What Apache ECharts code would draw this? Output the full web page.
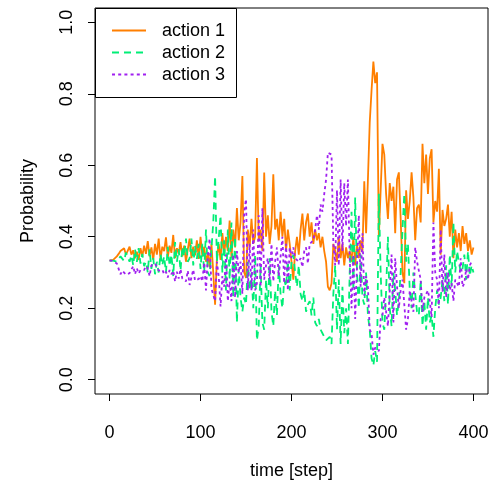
<!DOCTYPE html>
<html>
<head>
<meta charset="utf-8">
<script src="https://cdn.jsdelivr.net/npm/echarts@6/dist/echarts.min.js"></script>
<style>
html,body{margin:0;padding:0;background:#fff;}
#chart{width:494px;height:490px;}
</style>
</head>
<body>
<div id="chart"></div>
<script>
// time steps (every 2 steps from 0 to 400)
const steps = [];
for (let s = 0; s <= 400; s += 2) steps.push(s);

const seriesNames = ['action 1', 'action 2', 'action 3'];

const action1 = [
.333,.333,.335,.338,.345,.352,.360,.355,.368,.350,
.345,.372,.350,.362,.340,.358,.335,.368,.345,.375,
.352,.388,.345,.370,.335,.380,.350,.395,.338,.372,
.360,.398,.342,.375,.355,.405,.340,.368,.352,.385,
.345,.375,.330,.365,.395,.340,.372,.348,.390,.338,
.400,.345,.372,.330,.355,.315,.380,.300,.210,.340,
.380,.335,.410,.350,.400,.360,.445,.340,.420,.370,
.480,.390,.440,.570,.300,.285,.420,.370,.450,.380,
.400,.620,.390,.420,.360,.580,.400,.460,.380,.430,
.575,.420,.450,.390,.470,.400,.450,.360,.420,.380,
.330,.280,.360,.400,.350,.420,.465,.390,.440,.465,
.400,.440,.380,.420,.390,.410,.370,.400,.360,.330,
.260,.250,.270,.380,.360,.330,.400,.340,.380,.320,
.370,.340,.360,.330,.400,.320,.380,.340,.390,.360,
.555,.410,.560,.720,.810,.890,.830,.860,.400,.530,
.660,.630,.520,.450,.550,.500,.540,.410,.560,.580,
.450,.300,.270,.530,.450,.500,.580,.510,.390,.480,
.490,.440,.660,.550,.630,.520,.620,.645,.440,.500,
.470,.590,.350,.475,.430,.450,.490,.400,.470,.340,
.420,.370,.410,.360,.430,.380,.410,.360,.390,.350,
.370
];

const action2 = [
.333,.334,.333,.335,.330,.338,.345,.340,.332,.356,
.360,.330,.348,.320,.365,.330,.368,.325,.352,.318,
.330,.300,.365,.310,.340,.295,.330,.300,.352,.320,
.345,.300,.372,.318,.350,.290,.385,.330,.365,.305,
.372,.345,.395,.330,.340,.395,.320,.375,.338,.380,
.310,.380,.300,.420,.300,.290,.365,.440,.570,.330,
.330,.460,.300,.390,.250,.420,.280,.440,.230,.400,
.160,.310,.230,.190,.230,.210,.330,.250,.300,.200,
.350,.110,.150,.320,.160,.140,.280,.200,.340,.190,
.150,.250,.180,.320,.240,.200,.280,.260,.330,.250,
.330,.350,.300,.260,.320,.240,.220,.250,.190,.210,
.220,.180,.230,.160,.150,.170,.140,.130,.120,.110,
.105,.120,.100,.240,.320,.140,.280,.100,.260,.130,
.200,.100,.300,.470,.250,.510,.300,.200,.350,.230,
.210,.300,.180,.140,.060,.040,.080,.050,.520,.300,
.160,.140,.250,.400,.200,.150,.300,.250,.180,.220,
.300,.420,.520,.330,.380,.250,.200,.300,.240,.190,
.180,.280,.150,.220,.140,.230,.160,.180,.120,.200,
.250,.210,.230,.280,.220,.320,.210,.350,.260,.440,
.300,.360,.330,.300,.310,.350,.280,.360,.290,.320,
.300
];

const action3 = [
.334,.333,.332,.327,.325,.310,.295,.305,.300,.294,
.295,.298,.302,.318,.295,.312,.297,.307,.303,.307,
.318,.312,.290,.320,.325,.325,.320,.305,.310,.308,
.295,.302,.286,.307,.295,.305,.275,.302,.283,.310,
.283,.280,.275,.305,.265,.265,.308,.277,.272,.282,
.290,.275,.328,.250,.345,.395,.255,.260,.220,.330,
.290,.205,.290,.260,.350,.220,.275,.220,.350,.230,
.360,.300,.330,.240,.470,.505,.250,.380,.250,.420,
.250,.270,.460,.260,.480,.280,.320,.340,.280,.380,
.275,.330,.370,.290,.290,.400,.270,.380,.250,.370,
.340,.370,.340,.340,.330,.340,.315,.360,.370,.325,
.380,.380,.390,.420,.460,.420,.490,.470,.520,.560,
.635,.630,.630,.380,.320,.530,.320,.560,.360,.550,
.430,.560,.340,.200,.350,.170,.320,.460,.260,.410,
.235,.290,.260,.140,.130,.070,.090,.090,.080,.170,
.180,.230,.230,.150,.250,.350,.160,.340,.260,.200,
.250,.280,.210,.140,.170,.250,.220,.190,.370,.330,
.330,.280,.190,.230,.230,.250,.220,.175,.440,.300,
.280,.200,.420,.245,.350,.230,.300,.250,.270,.220,
.280,.270,.260,.340,.260,.270,.310,.280,.320,.330,
.330
];

const xTicks = [0, 100, 200, 300, 400];
const yTicks = [0, 0.2, 0.4, 0.6, 0.8, 1.0];

const colors = ['#FF7F00', '#00EE76', '#A020F0'];
const dashes = ['solid', [7, 5], [3, 3.2]];

function pairs(vals) { return steps.map((s, i) => [s, vals[i]]); }
const allValues = [action1, action2, action3];

const FONT = 'Liberation Sans, Arial, sans-serif';

// legend drawn as graphic elements
const legendGraphics = [{
  type: 'rect', shape: {x: 95.5, y: 8.5, width: 141, height: 89},
  style: {fill: '#fff', stroke: '#000', lineWidth: 1}, z: 100
}];
seriesNames.forEach((n, k) => {
  const y = 30.5 + k * 22;
  legendGraphics.push({
    type: 'line', shape: {x1: 112, y1: y, x2: 146, y2: y},
    style: {stroke: colors[k], lineWidth: 2, lineDash: dashes[k] === 'solid' ? null : dashes[k]},
    z: 101
  });
  legendGraphics.push({
    type: 'text', x: 162, y: y + 0.5,
    style: {text: n, fill: '#000', font: '18px ' + FONT, textVerticalAlign: 'middle', textAlign: 'left'},
    z: 101
  });
});

const chart = echarts.init(document.getElementById('chart'), null, {renderer: 'canvas'});
chart.setOption({
  animation: false,
  backgroundColor: '#fff',
  grid: {left: 95, right: 6, top: 8, bottom: 96, show: true, borderColor: '#000', borderWidth: 1, backgroundColor: 'transparent'},
  graphic: legendGraphics,
  xAxis: {
    type: 'value', min: -16, max: 416,
    name: 'time [step]', nameLocation: 'middle', nameGap: 68,
    nameTextStyle: {fontFamily: FONT, fontSize: 18, color: '#000'},
    axisLine: {show: false, onZero: false},
    axisTick: {show: true, length: 7, lineStyle: {color: '#000'}, customValues: xTicks},
    axisLabel: {show: true, margin: 30, fontFamily: FONT, fontSize: 18, color: '#000', customValues: xTicks},
    splitLine: {show: false}
  },
  yAxis: {
    type: 'value', min: -0.04, max: 1.04,
    name: 'Probability', nameLocation: 'middle', nameGap: 58, nameRotate: 90,
    nameTextStyle: {fontFamily: FONT, fontSize: 18, color: '#000'},
    axisLine: {show: false, onZero: false},
    axisTick: {show: true, length: 7, lineStyle: {color: '#000'}, customValues: yTicks},
    axisLabel: {show: true, margin: 19, rotate: 90, fontFamily: FONT, fontSize: 18, color: '#000',
      customValues: yTicks, formatter: v => v.toFixed(1)},
    splitLine: {show: false}
  },
  series: seriesNames.map((n, k) => ({
    name: n, type: 'line', data: pairs(allValues[k]), symbol: 'none',
    color: colors[k],
    lineStyle: {color: colors[k], width: 1.8, type: dashes[k]},
    z: 2 + k
  }))
});
</script>
</body>
</html>
